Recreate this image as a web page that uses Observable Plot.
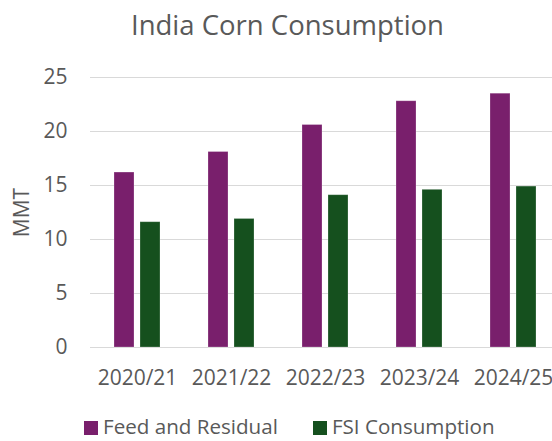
<!DOCTYPE html>
<html>
<head>
<meta charset="utf-8">
<script src="https://cdn.jsdelivr.net/npm/d3@7"></script>
<script src="https://cdn.jsdelivr.net/npm/@observablehq/plot@0.6"></script>
<style>
  html, body { margin: 0; padding: 0; background: #fff; }
  #wrap { position: relative; width: 552px; height: 441px; overflow: hidden; font-family: "Open Sans", sans-serif; color: #595959; }
  #title { position: absolute; top: 6px; left: 0; width: 552px; box-sizing: border-box; padding-left: 23px; text-align: center; font-size: 27.5px; line-height: normal; white-space: nowrap; }
  #chart { position: absolute; top: 60px; left: 0; }
  #legend { position: absolute; top: 412px; left: 0; display: flex; gap: 35px; padding-left: 84px; font-size: 20.6px; line-height: normal; white-space: nowrap; }
  .item { display: flex; align-items: center; }
  .sw { width: 14px; height: 14px; margin-right: 5px; margin-top: 3px; }
</style>
</head>
<body>
<div id="wrap">
  <div id="title">India Corn Consumption</div>
  <div id="chart"></div>
  <div id="legend"></div>
</div>
<script>
const years = ["2020/21", "2021/22", "2022/23", "2023/24", "2024/25"];
const series = ["Feed and Residual", "FSI Consumption"];
const feedResidual = [16.2, 18.1, 20.6, 22.8, 23.5];
const fsiConsumption = [11.6, 11.9, 14.1, 14.6, 14.9];
const yTicks = [0, 5, 10, 15, 20, 25];
const colors = ["#791F6C", "#15501E"];

const data = [];
years.forEach((yr, i) => {
  data.push({year: yr, series: series[0], value: feedResidual[i]});
  data.push({year: yr, series: series[1], value: fsiConsumption[i]});
});

const plot = Plot.plot({
  width: 560,
  height: 347,
  marginTop: 17,
  marginBottom: 60,
  marginLeft: 90,
  marginRight: 0,
  style: {fontFamily: "Open Sans", fontSize: "21px", color: "#595959", background: "transparent", maxWidth: "none", overflow: "visible"},
  fx: {domain: years, padding: 0, label: null},
  x: {domain: series, paddingInner: 0.213, paddingOuter: 0.873, axis: null},
  y: {domain: [0, 25]},
  color: {domain: series, range: colors},
  marks: [
    Plot.gridY(yTicks, {stroke: "#d9d9d9", strokeOpacity: 1, strokeWidth: 1.2}),
    Plot.barY(data, {fx: "year", x: "series", y: "value", fill: "series", inset: 0, stroke: "white", strokeOpacity: 0.3, strokeWidth: 0.8}),
    Plot.axisY(yTicks, {tickSize: 0, tickPadding: 23, label: "MMT", labelAnchor: "center", labelArrow: "none", labelOffset: 76, fontSize: 21}),
    Plot.axisFx({anchor: "bottom", tickSize: 0, tickPadding: 23, label: null, fontSize: 21})
  ]
});
document.getElementById("chart").appendChild(plot);

const legend = document.getElementById("legend");
series.forEach((s, i) => {
  const item = document.createElement("div");
  item.className = "item";
  const sw = document.createElement("span");
  sw.className = "sw";
  sw.style.background = colors[i];
  const t = document.createElement("span");
  t.textContent = s;
  item.appendChild(sw);
  item.appendChild(t);
  legend.appendChild(item);
});
</script>
</body>
</html>
